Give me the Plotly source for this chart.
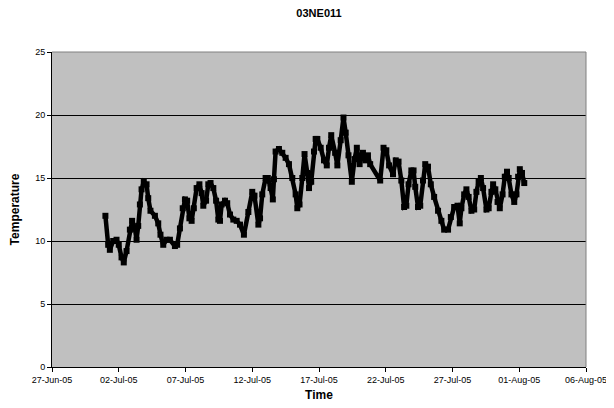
import pandas as pd
import plotly.graph_objects as go

# station 03NE011, readings taken off the chart (hours after 01-Jul-05 00:00)
start = pd.Timestamp("2005-07-01 00:00")

hours = [0, 5, 8, 14, 20, 24, 29, 33, 38, 44, 48, 53, 56, 59, 62, 65, 69, 74, 77, 81,
         89, 95, 99, 104, 110, 116, 125, 129, 134, 139, 143, 147, 151, 155, 159, 164, 169, 173, 176, 181,
         185, 189, 194, 199, 203, 206, 209, 215, 219, 224, 230, 236, 242, 249, 257, 264, 268, 275, 278, 282,
         288, 292, 297, 301, 303, 306, 312, 318, 324, 330, 336, 342, 345, 349, 354, 358, 363, 366, 370, 375,
         378, 381, 387, 393, 398, 402, 406, 413, 417, 423, 428, 432, 437, 443, 448, 452, 457, 463, 468, 472,
         476, 494, 500, 505, 510, 517, 522, 527, 532, 537, 541, 545, 550, 554, 557, 562, 566, 571, 575, 580,
         585, 591, 598, 604, 609, 616, 621, 627, 633, 637, 640, 645, 649, 653, 658, 663, 667, 671, 675, 679,
         685, 689, 694, 697, 701, 705, 709, 714, 718, 722, 725, 730, 735, 739, 742, 745, 749, 753]

temps = [12.0, 9.7, 9.3, 10.0, 10.1, 9.7, 8.7, 8.3, 9.2, 10.9, 11.6, 11.0, 10.1, 11.2, 12.9, 14.1, 14.7, 14.5, 13.4, 12.4,
         12.0, 11.4, 10.5, 9.7, 10.1, 10.1, 9.6, 9.7, 11.0, 12.6, 13.3, 13.2, 11.8, 11.6, 12.6, 14.2, 14.5, 13.8, 12.8, 13.2,
         14.5, 14.6, 14.2, 13.2, 11.7, 11.6, 12.9, 13.2, 13.0, 12.1, 11.7, 11.6, 11.3, 10.5, 12.3, 13.9, 13.6, 11.3, 11.8, 13.7,
         15.0, 15.0, 14.2, 13.3, 14.9, 17.1, 17.3, 17.0, 16.6, 16.1, 15.0, 13.7, 12.6, 12.9, 15.0, 16.9, 15.4, 14.2, 14.7, 17.1,
         18.1, 18.1, 17.4, 16.4, 16.0, 17.4, 18.4, 17.0, 16.0, 18.0, 19.8, 18.6, 16.8, 14.7, 16.5, 17.4, 16.1, 17.0, 16.4, 16.8,
         16.1, 14.8, 17.4, 17.2, 16.0, 15.3, 16.4, 16.3, 14.8, 12.7, 12.8, 14.5, 15.6, 15.6, 14.3, 12.7, 12.8, 14.8, 16.1, 15.9,
         14.5, 13.5, 12.4, 11.6, 10.9, 10.9, 11.9, 12.7, 12.8, 11.4, 12.6, 13.7, 14.1, 13.5, 12.4, 12.5, 13.9, 14.7, 15.0, 14.2,
         12.5, 12.6, 13.9, 14.5, 14.1, 13.1, 12.6, 13.7, 15.1, 15.5, 15.0, 13.7, 13.1, 13.7, 15.1, 15.7, 15.4, 14.6]

times = start + pd.to_timedelta(hours, unit="h")

font = "Liberation Sans, Arial, sans-serif"

fig = go.Figure(
    go.Scatter(
        x=times,
        y=temps,
        mode="lines+markers",
        line=dict(color="black", width=4.5),
        marker=dict(symbol="square", size=6, color="black"),
        showlegend=False,
    )
)

# the page body has an 8px margin, so the figure sits 8px in from the top-left
fig.update_layout(
    width=606,
    height=400,
    margin=dict(l=44, r=28, t=44, b=41, autoexpand=False),
    paper_bgcolor="white",
    plot_bgcolor="#c0c0c0",
    font=dict(family=font, size=9, color="black"),
    title=dict(text="<b>03NE011</b>", x=0.5, xref="paper", y=1, yanchor="top",
               pad=dict(t=1), font=dict(size=11, family=font), automargin=False),
)

fig.update_xaxes(
    automargin=False,
    range=["2005-06-27", "2005-08-06"],
    tick0="2005-06-27",
    dtick=5 * 86400000,
    tickformat="%d-%b-%y",
    ticks="outside",
    ticklen=4,
    tickcolor="black",
    showgrid=False,
    showline=True,
    linecolor="black",
    linewidth=1,
    zeroline=False,
    tickfont=dict(size=9),
    title=dict(text="<b>Time</b>", font=dict(size=12), standoff=6),
)

fig.update_yaxes(
    automargin=False,
    range=[0, 25],
    dtick=5,
    ticks="outside",
    ticklen=4,
    tickcolor="black",
    showgrid=True,
    gridcolor="black",
    gridwidth=1,
    showline=True,
    linecolor="black",
    linewidth=1,
    zeroline=False,
    tickfont=dict(size=9),
    title=dict(text="<b>Temperature</b>", font=dict(size=12), standoff=12),
)

# gray frame on top and right, as in the spreadsheet chart
fig.add_shape(type="line", xref="paper", yref="paper", x0=0, x1=1, y0=1, y1=1,
              line=dict(color="#808080", width=1))
fig.add_shape(type="line", xref="paper", yref="paper", x0=1, x1=1, y0=0, y1=1,
              line=dict(color="#808080", width=1))

fig.write_html("out.html")
